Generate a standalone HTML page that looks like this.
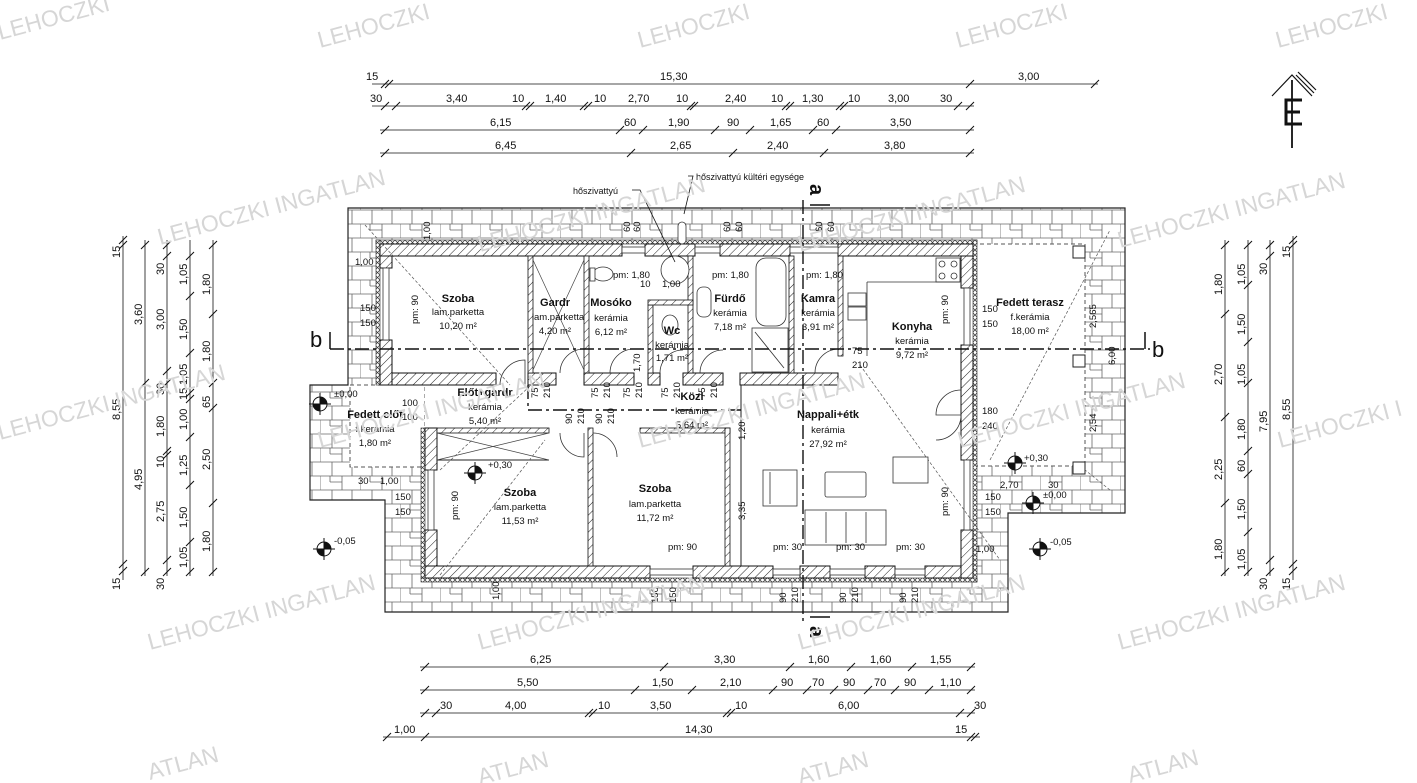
<!DOCTYPE html>
<html><head><meta charset="utf-8"><style>
html,body{margin:0;padding:0;background:#fff}
svg{display:block}
text{font-family:"Liberation Sans",sans-serif;fill:#111}
.d{font-size:11px}
.r{font-size:11px;font-weight:bold}
.s{font-size:9.5px}
.wm text{font-size:23px;fill:#d6d6d6;font-family:"Liberation Sans",sans-serif}
</style></head><body>
<svg width="1417" height="783" viewBox="0 0 1417 783" xmlns="http://www.w3.org/2000/svg">
<defs>
<pattern id="pav" width="40" height="28" patternUnits="userSpaceOnUse">
<rect width="40" height="28" fill="#fff"/>
<path d="M0 0H40M0 14H40M0 28H40M0 0V14M22 0V14M12 14V28M32 14V28M10 0V6M10 6H22" stroke="#666" stroke-width="0.8" fill="none"/>
</pattern>
<pattern id="hat" width="6" height="6" patternUnits="userSpaceOnUse" patternTransform="rotate(45)">
<rect width="6" height="6" fill="#fff"/><line x1="0" y1="0" x2="0" y2="6" stroke="#222" stroke-width="1"/>
</pattern>
<pattern id="ins" width="5" height="5" patternUnits="userSpaceOnUse">
<rect width="5" height="5" fill="#fff"/><path d="M0 0L5 5M5 0L0 5" stroke="#333" stroke-width="0.7"/>
</pattern>
</defs>

<polygon points="348,208 1125,208 1125,513 1008,513 1008,612 385,612 385,500 310,500 310,385 348,385" fill="url(#pav)" stroke="#222" stroke-width="1.2"/>
<rect x="973" y="244" width="112" height="222" fill="#fff" stroke="#555" stroke-dasharray="4,3"/>
<rect x="1073" y="246" width="12" height="12" fill="#fff" stroke="#222"/>
<rect x="1073" y="355" width="12" height="12" fill="#fff" stroke="#222"/>
<rect x="1073" y="462" width="12" height="12" fill="#fff" stroke="#222"/>
<rect x="350" y="385" width="75" height="82" fill="#fff" stroke="#555" stroke-dasharray="4,3"/>
<polygon points="380,244 973,244 973,578 425,578 425,385 380,385" fill="#fff"/>
<rect x="376" y="240" width="601" height="4" fill="url(#ins)" stroke="#222" stroke-width="0.6"/>
<rect x="376" y="240" width="4" height="145" fill="url(#ins)" stroke="#222" stroke-width="0.6"/>
<rect x="973" y="240" width="4" height="342" fill="url(#ins)" stroke="#222" stroke-width="0.6"/>
<rect x="421" y="578" width="556" height="4" fill="url(#ins)" stroke="#222" stroke-width="0.6"/>
<rect x="421" y="428" width="4" height="150" fill="url(#ins)" stroke="#222" stroke-width="0.6"/>
<g fill="url(#hat)" stroke="#111" stroke-width="1">
<rect x="380" y="244" width="242" height="12"/>
<rect x="645" y="244" width="50" height="12"/>
<rect x="720" y="244" width="70" height="12"/>
<rect x="838" y="244" width="135" height="12"/>
<rect x="380" y="256" width="12" height="12"/>
<rect x="380" y="340" width="12" height="45"/>
<rect x="392" y="373" width="104" height="12"/>
<rect x="961" y="256" width="12" height="32"/>
<rect x="961" y="345" width="12" height="115"/>
<rect x="961" y="530" width="12" height="48"/>
<rect x="425" y="566" width="225" height="12"/>
<rect x="693" y="566" width="80" height="12"/>
<rect x="800" y="566" width="30" height="12"/>
<rect x="865" y="566" width="30" height="12"/>
<rect x="925" y="566" width="36" height="12"/>
<rect x="425" y="428" width="12" height="42"/>
<rect x="425" y="530" width="12" height="36"/>
<rect x="528" y="373" width="28" height="12"/>
<rect x="584" y="373" width="50" height="12"/>
<rect x="648" y="373" width="12" height="12"/>
<rect x="683" y="373" width="40" height="12"/>
<rect x="740" y="373" width="98" height="12"/>
</g>
<g stroke="#333" stroke-width="0.8" fill="#fff">
<rect x="622" y="247" width="23" height="6"/><rect x="695" y="247" width="25" height="6"/><rect x="790" y="247" width="48" height="6"/>
<rect x="383" y="268" width="6" height="72"/><rect x="964" y="288" width="6" height="57"/><rect x="964" y="460" width="6" height="70"/>
<rect x="428" y="470" width="6" height="60"/>
<rect x="650" y="569" width="43" height="6"/><rect x="773" y="569" width="27" height="6"/><rect x="830" y="569" width="35" height="6"/><rect x="895" y="569" width="30" height="6"/>
</g>
<g fill="url(#hat)" stroke="#111" stroke-width="0.8">
<rect x="528" y="256" width="5" height="117"/>
<rect x="584" y="256" width="5" height="117"/>
<rect x="648" y="305" width="5" height="68"/>
<rect x="688" y="256" width="5" height="117"/>
<rect x="648" y="300" width="45" height="5"/>
<rect x="789" y="256" width="5" height="117"/>
<rect x="838" y="256" width="5" height="100"/>
<rect x="437" y="428" width="112" height="5"/>
<rect x="588" y="428" width="5" height="138"/>
<rect x="640" y="428" width="90" height="5"/>
<rect x="725" y="428" width="5" height="138"/>
</g>
<line x1="741" y1="385" x2="741" y2="566" stroke="#222"/>
<line x1="437" y1="460" x2="549" y2="460" stroke="#222"/>
<path d="M437 433L549 460M549 433L437 460" stroke="#444" stroke-width="0.7"/>
<path d="M533 260L584 370M584 260L533 370" stroke="#444" stroke-width="0.7"/>
<g stroke="#555" stroke-width="0.7" stroke-dasharray="3,2" fill="none">
<line x1="365" y1="225" x2="510" y2="385"/><line x1="440" y1="470" x2="545" y2="372"/>
<line x1="440" y1="575" x2="545" y2="440"/><line x1="860" y1="365" x2="1000" y2="560"/>
<line x1="990" y1="460" x2="1110" y2="230"/><line x1="1110" y1="490" x2="1085" y2="470"/>
</g>
<g stroke="#333" stroke-width="0.8" fill="none">
<path d="M500 385A25 25 0 0 1 525 360V385"/><path d="M560 373A24 24 0 0 1 584 349V373"/>
<path d="M610 373A24 24 0 0 1 634 349"/><path d="M660 373A23 23 0 0 1 683 350"/>
<path d="M700 373A23 23 0 0 1 723 350"/><path d="M815 373A24 24 0 0 1 838 349"/>
<path d="M560 433A24 24 0 0 0 584 457V433"/><path d="M593 433A24 24 0 0 1 617 457"/>
<path d="M961 390A25 25 0 0 0 936 415H961"/><path d="M961 415A25 25 0 0 1 936 440"/>
</g>
<g stroke="#333" stroke-width="0.8" fill="#fff">
<rect x="756" y="258" width="30" height="68" rx="10"/><rect x="752" y="328" width="36" height="44"/>
<path d="M755 332L784 368"/>
<rect x="697" y="287" width="14" height="30" rx="6"/>
<ellipse cx="603" cy="274" rx="10" ry="7"/><rect x="590" y="268" width="5" height="13"/>
<ellipse cx="670" cy="325" rx="8" ry="10"/><circle cx="675" cy="270" r="14"/>
<rect x="936" y="258" width="24" height="24"/>
<circle cx="942" cy="264" r="3"/><circle cx="954" cy="264" r="3"/><circle cx="942" cy="276" r="3"/><circle cx="954" cy="276" r="3"/>
<path d="M867 282H936V282H960M867 282V356" fill="none"/>
<rect x="848" y="293" width="18" height="13"/><rect x="848" y="307" width="18" height="13"/>
<rect x="763" y="470" width="34" height="36"/><rect x="825" y="472" width="41" height="25" rx="2"/>
<rect x="893" y="457" width="35" height="26"/><rect x="805" y="510" width="81" height="35"/>
<path d="M826 512V543M846 512V543M866 512V543M770 472V504"/>
<rect x="678" y="222" width="8" height="22" rx="4"/>
</g>
<g stroke="#111" stroke-width="1.4" stroke-dasharray="14,4,3,4" fill="none">
<line x1="330" y1="349" x2="1150" y2="349"/><line x1="803" y1="200" x2="803" y2="625"/>
<line x1="528" y1="410" x2="741" y2="410"/><line x1="528" y1="385" x2="528" y2="410"/>
</g>
<path d="M330 332V349M1145 332V349M810 205H830M810 617H830" stroke="#111" stroke-width="1.5"/>
<text x="310" y="347" style="font-size:22px">b</text><text x="1152" y="357" style="font-size:22px">b</text>
<text x="812" y="198" style="font-size:20px;font-weight:bold" transform="rotate(90 818 190)">a</text>
<text x="812" y="640" style="font-size:20px;font-weight:bold" transform="rotate(90 818 632)">a</text>

<g text-anchor="middle">
<text class="r" x="458" y="302">Szoba</text><text class="s" x="458" y="315">lam.parketta</text><text class="s" x="458" y="329">10,20 m²</text>
<text class="r" x="555" y="306">Gardr</text><text class="s" x="558" y="320">lam.parketta</text><text class="s" x="555" y="334">4,20 m²</text>
<text class="r" x="611" y="306">Mosóko</text><text class="s" x="611" y="321">kerámia</text><text class="s" x="611" y="335">6,12 m²</text>
<text class="r" x="672" y="334">Wc</text><text class="s" x="672" y="348">kerámia</text><text class="s" x="672" y="361">1,71 m²</text>
<text class="r" x="730" y="302">Fürdő</text><text class="s" x="730" y="316">kerámia</text><text class="s" x="730" y="330">7,18 m²</text>
<text class="r" x="818" y="302">Kamra</text><text class="s" x="818" y="316">kerámia</text><text class="s" x="818" y="330">3,91 m²</text>
<text class="r" x="912" y="330">Konyha</text><text class="s" x="912" y="344">kerámia</text><text class="s" x="912" y="358">9,72 m²</text>
<text class="r" x="1030" y="306">Fedett terasz</text><text class="s" x="1030" y="320">f.kerámia</text><text class="s" x="1030" y="334">18,00 m²</text>
<text class="r" x="485" y="396">Előt+gardr</text><text class="s" x="485" y="410">kerámia</text><text class="s" x="485" y="424">5,40 m²</text>
<text class="r" x="692" y="400">Közl</text><text class="s" x="692" y="414">kerámia</text><text class="s" x="692" y="428">5,64 m²</text>
<text class="r" x="828" y="418">Nappali+étk</text><text class="s" x="828" y="433">kerámia</text><text class="s" x="828" y="447">27,92 m²</text>
<text class="r" x="520" y="496">Szoba</text><text class="s" x="520" y="510">lam.parketta</text><text class="s" x="520" y="524">11,53 m²</text>
<text class="r" x="655" y="492">Szoba</text><text class="s" x="655" y="507">lam.parketta</text><text class="s" x="655" y="521">11,72 m²</text>
<text class="r" x="375" y="418">Fedett előt</text><text class="s" x="375" y="432">f.kerámia</text><text class="s" x="375" y="446">1,80 m²</text>
</g>
<g class="s">
<text x="613" y="278">pm: 1,80</text><text x="712" y="278">pm: 1,80</text><text x="806" y="278">pm: 1,80</text>
<text x="640" y="287">10</text><text x="662" y="287">1,00</text>
<text x="852" y="354">75</text><text x="852" y="368">210</text>
<text x="360" y="311">150</text><text x="360" y="326">150</text>
<text x="982" y="312">150</text><text x="982" y="327">150</text>
<text x="982" y="414">180</text><text x="982" y="429">240</text>
<text x="402" y="406">100</text><text x="402" y="420">100</text>
<text x="985" y="500">150</text><text x="985" y="515">150</text>
<text x="395" y="500">150</text><text x="395" y="515">150</text>
<text x="668" y="550">pm: 90</text>
<text x="773" y="550">pm: 30</text><text x="836" y="550">pm: 30</text><text x="896" y="550">pm: 30</text>
<text x="1000" y="488">2,70</text><text x="1048" y="488">30</text><text x="1043" y="498">±0,00</text>
<text x="976" y="552">1,00</text><text x="358" y="484">30</text><text x="380" y="484">1,00</text><text x="355" y="265">1,00</text>
<text x="488" y="468">+0,30</text><text x="1024" y="461">+0,30</text><text x="334" y="397">±0,00</text>
<text x="334" y="544">-0,05</text><text x="1050" y="545">-0,05</text>
</g>
<g class="s">
<text transform="translate(418,324) rotate(-90)">pm: 90</text>
<text transform="translate(948,324) rotate(-90)">pm: 90</text>
<text transform="translate(458,520) rotate(-90)">pm: 90</text>
<text transform="translate(948,516) rotate(-90)">pm: 90</text>
<text transform="translate(430,240) rotate(-90)">1,00</text>
<text transform="translate(499,600) rotate(-90)">1,00</text>
<text transform="translate(640,372) rotate(-90)">1,70</text>
<text transform="translate(745,520) rotate(-90)">3,35</text>
<text transform="translate(745,440) rotate(-90)">1,20</text>
<text transform="translate(1096,328) rotate(-90)">2,565</text>
<text transform="translate(1096,432) rotate(-90)">2,54</text>
<text transform="translate(1115,365) rotate(-90)">6,00</text>
<text transform="translate(630,232) rotate(-90)">60</text><text transform="translate(640,232) rotate(-90)">60</text>
<text transform="translate(730,232) rotate(-90)">60</text><text transform="translate(742,232) rotate(-90)">60</text>
<text transform="translate(822,232) rotate(-90)">60</text><text transform="translate(834,232) rotate(-90)">60</text>
<text transform="translate(658,603) rotate(-90)">150</text><text transform="translate(676,603) rotate(-90)">150</text>
<text transform="translate(786,603) rotate(-90)">90</text><text transform="translate(798,603) rotate(-90)">210</text>
<text transform="translate(846,603) rotate(-90)">90</text><text transform="translate(858,603) rotate(-90)">210</text>
<text transform="translate(906,603) rotate(-90)">90</text><text transform="translate(918,603) rotate(-90)">210</text>
<text transform="translate(538,398) rotate(-90)">75</text><text transform="translate(550,398) rotate(-90)">210</text>
<text transform="translate(598,398) rotate(-90)">75</text><text transform="translate(610,398) rotate(-90)">210</text>
<text transform="translate(630,398) rotate(-90)">75</text><text transform="translate(642,398) rotate(-90)">210</text>
<text transform="translate(668,398) rotate(-90)">75</text><text transform="translate(680,398) rotate(-90)">210</text>
<text transform="translate(705,398) rotate(-90)">75</text><text transform="translate(717,398) rotate(-90)">210</text>
<text transform="translate(572,424) rotate(-90)">90</text><text transform="translate(584,424) rotate(-90)">210</text>
<text transform="translate(602,424) rotate(-90)">90</text><text transform="translate(614,424) rotate(-90)">210</text>
</g>
<g>
<g transform="translate(320,404)"><circle r="7" fill="#fff" stroke="#111"/><path d="M0 0H7A7 7 0 0 0 0 -7ZM0 0H-7A7 7 0 0 0 0 7Z" fill="#111"/><path d="M-11 0H11M0 -11V11" stroke="#111"/></g>
<g transform="translate(475,473)"><circle r="7" fill="#fff" stroke="#111"/><path d="M0 0H7A7 7 0 0 0 0 -7ZM0 0H-7A7 7 0 0 0 0 7Z" fill="#111"/><path d="M-11 0H11M0 -11V11" stroke="#111"/></g>
<g transform="translate(1015,463)"><circle r="7" fill="#fff" stroke="#111"/><path d="M0 0H7A7 7 0 0 0 0 -7ZM0 0H-7A7 7 0 0 0 0 7Z" fill="#111"/><path d="M-11 0H11M0 -11V11" stroke="#111"/></g>
<g transform="translate(1033,503)"><circle r="7" fill="#fff" stroke="#111"/><path d="M0 0H7A7 7 0 0 0 0 -7ZM0 0H-7A7 7 0 0 0 0 7Z" fill="#111"/><path d="M-11 0H11M0 -11V11" stroke="#111"/></g>
<g transform="translate(324,549)"><circle r="7" fill="#fff" stroke="#111"/><path d="M0 0H7A7 7 0 0 0 0 -7ZM0 0H-7A7 7 0 0 0 0 7Z" fill="#111"/><path d="M-11 0H11M0 -11V11" stroke="#111"/></g>
<g transform="translate(1040,549)"><circle r="7" fill="#fff" stroke="#111"/><path d="M0 0H7A7 7 0 0 0 0 -7ZM0 0H-7A7 7 0 0 0 0 7Z" fill="#111"/><path d="M-11 0H11M0 -11V11" stroke="#111"/></g>
</g>
<path d="M632 190H640L675 262M688 176H693L684 214" stroke="#111" fill="none" stroke-width="0.8"/>
<text class="s" x="573" y="194" style="font-size:9px">hőszivattyú</text>
<text class="s" x="696" y="180" style="font-size:9px">hőszivattyú kültéri egysége</text>

<g stroke="#111" stroke-width="0.8" fill="none">
<line x1="372" y1="84" x2="1098" y2="84"/><line x1="372" y1="106" x2="974" y2="106"/>
<line x1="380" y1="130" x2="974" y2="130"/><line x1="380" y1="153" x2="974" y2="153"/>
<line x1="420" y1="667" x2="975" y2="667"/><line x1="420" y1="690" x2="975" y2="690"/>
<line x1="420" y1="713" x2="975" y2="713"/><line x1="383" y1="737" x2="980" y2="737"/>
<line x1="123" y1="236" x2="123" y2="580"/><line x1="145" y1="240" x2="145" y2="576"/>
<line x1="167" y1="240" x2="167" y2="576"/><line x1="190" y1="240" x2="190" y2="576"/><line x1="213" y1="240" x2="213" y2="576"/>
<line x1="1225" y1="240" x2="1225" y2="576"/><line x1="1248" y1="240" x2="1248" y2="576"/>
<line x1="1270" y1="240" x2="1270" y2="576"/><line x1="1293" y1="236" x2="1293" y2="580"/>
</g>
<g stroke="#111" stroke-width="1">
<path d="M381 88L389 80M385 88L393 80M966 88L974 80M1091 88L1099 80"/>
<path d="M381 110L389 102M392 110L400 102M522 110L530 102M526 110L534 102M580 110L588 102M584 110L592 102M687 110L695 102M690 110L698 102M782 110L790 102M786 110L794 102M836 110L844 102M840 110L848 102M954 110L962 102M966 110L974 102"/>
<path d="M381 134L389 126M616 134L624 126M639 134L647 126M711 134L719 126M746 134L754 126M809 134L817 126M832 134L840 126M966 134L974 126"/>
<path d="M381 157L389 149M627 157L635 149M729 157L737 149M820 157L828 149M966 157L974 149"/>
<path d="M421 671L429 663M660 671L668 663M786 671L794 663M847 671L855 663M908 671L916 663M967 671L975 663"/>
<path d="M421 694L429 686M631 694L639 686M688 694L696 686M769 694L777 686M803 694L811 686M830 694L838 686M864 694L872 686M891 694L899 686M925 694L933 686M967 694L975 686"/>
<path d="M421 717L429 709M432 717L440 709M585 717L593 709M589 717L597 709M723 717L731 709M727 717L735 709M956 717L964 709M967 717L975 709"/>
<path d="M383 741L391 733M421 741L429 733M967 741L975 733M971 741L979 733"/>
<path d="M119 244L127 236M119 249L127 241M119 568L127 560M119 575L127 567"/>
<path d="M141 249L149 241M141 387L149 379M141 576L149 568"/>
<path d="M163 249L171 241M163 260L171 252M163 375L171 367M163 387L171 379M163 455L171 447M163 459L171 451M163 564L171 556M163 576L171 568"/>
<path d="M186 260L194 252M186 300L194 292M186 357L194 349M186 397L194 389M186 403L194 395M186 441L194 433M186 489L194 481M186 546L194 538M186 576L194 568"/>
<path d="M209 249L217 241M209 318L217 310M209 387L217 379M209 412L217 404M209 507L217 499M209 576L217 568"/>
<path d="M1221 249L1229 241M1221 318L1229 310M1221 421L1229 413M1221 507L1229 499M1221 576L1229 568"/>
<path d="M1244 249L1252 241M1244 289L1252 281M1244 346L1252 338M1244 387L1252 379M1244 455L1252 447M1244 478L1252 470M1244 536L1252 528M1244 576L1252 568"/>
<path d="M1266 249L1274 241M1266 260L1274 252M1266 564L1274 556M1266 576L1274 568"/>
<path d="M1289 244L1297 236M1289 249L1297 241M1289 568L1297 560M1289 575L1297 567"/>
</g>
<g class="d">
<text x="366" y="80">15</text><text x="660" y="80">15,30</text><text x="1018" y="80">3,00</text>
<text x="370" y="102">30</text><text x="446" y="102">3,40</text><text x="512" y="102">10</text><text x="545" y="102">1,40</text><text x="594" y="102">10</text><text x="628" y="102">2,70</text><text x="676" y="102">10</text><text x="725" y="102">2,40</text><text x="771" y="102">10</text><text x="802" y="102">1,30</text><text x="848" y="102">10</text><text x="888" y="102">3,00</text><text x="940" y="102">30</text>
<text x="490" y="126">6,15</text><text x="624" y="126">60</text><text x="668" y="126">1,90</text><text x="727" y="126">90</text><text x="770" y="126">1,65</text><text x="817" y="126">60</text><text x="890" y="126">3,50</text>
<text x="495" y="149">6,45</text><text x="670" y="149">2,65</text><text x="767" y="149">2,40</text><text x="884" y="149">3,80</text>
<text x="530" y="663">6,25</text><text x="714" y="663">3,30</text><text x="808" y="663">1,60</text><text x="870" y="663">1,60</text><text x="930" y="663">1,55</text>
<text x="517" y="686">5,50</text><text x="652" y="686">1,50</text><text x="720" y="686">2,10</text><text x="781" y="686">90</text><text x="812" y="686">70</text><text x="843" y="686">90</text><text x="874" y="686">70</text><text x="904" y="686">90</text><text x="940" y="686">1,10</text>
<text x="440" y="709">30</text><text x="505" y="709">4,00</text><text x="598" y="709">10</text><text x="650" y="709">3,50</text><text x="735" y="709">10</text><text x="838" y="709">6,00</text><text x="974" y="709">30</text>
<text x="394" y="733">1,00</text><text x="685" y="733">14,30</text><text x="955" y="733">15</text>
</g>
<g class="d">
<text transform="translate(120,258) rotate(-90)">15</text><text transform="translate(120,420) rotate(-90)">8,55</text><text transform="translate(120,590) rotate(-90)">15</text>
<text transform="translate(142,325) rotate(-90)">3,60</text><text transform="translate(142,490) rotate(-90)">4,95</text>
<text transform="translate(164,275) rotate(-90)">30</text><text transform="translate(164,330) rotate(-90)">3,00</text><text transform="translate(164,395) rotate(-90)">30</text><text transform="translate(164,437) rotate(-90)">1,80</text><text transform="translate(164,468) rotate(-90)">10</text><text transform="translate(164,522) rotate(-90)">2,75</text><text transform="translate(164,590) rotate(-90)">30</text>
<text transform="translate(187,285) rotate(-90)">1,05</text><text transform="translate(187,340) rotate(-90)">1,50</text><text transform="translate(187,385) rotate(-90)">1,05</text><text transform="translate(187,400) rotate(-90)">15</text><text transform="translate(187,430) rotate(-90)">1,00</text><text transform="translate(187,476) rotate(-90)">1,25</text><text transform="translate(187,528) rotate(-90)">1,50</text><text transform="translate(187,568) rotate(-90)">1,05</text>
<text transform="translate(210,295) rotate(-90)">1,80</text><text transform="translate(210,362) rotate(-90)">1,80</text><text transform="translate(210,408) rotate(-90)">65</text><text transform="translate(210,470) rotate(-90)">2,50</text><text transform="translate(210,552) rotate(-90)">1,80</text>
<text transform="translate(1222,295) rotate(-90)">1,80</text><text transform="translate(1222,385) rotate(-90)">2,70</text><text transform="translate(1222,480) rotate(-90)">2,25</text><text transform="translate(1222,560) rotate(-90)">1,80</text>
<text transform="translate(1245,285) rotate(-90)">1,05</text><text transform="translate(1245,335) rotate(-90)">1,50</text><text transform="translate(1245,385) rotate(-90)">1,05</text><text transform="translate(1245,440) rotate(-90)">1,80</text><text transform="translate(1245,472) rotate(-90)">60</text><text transform="translate(1245,520) rotate(-90)">1,50</text><text transform="translate(1245,570) rotate(-90)">1,05</text>
<text transform="translate(1267,275) rotate(-90)">30</text><text transform="translate(1267,432) rotate(-90)">7,95</text><text transform="translate(1267,590) rotate(-90)">30</text>
<text transform="translate(1290,258) rotate(-90)">15</text><text transform="translate(1290,420) rotate(-90)">8,55</text><text transform="translate(1290,590) rotate(-90)">15</text>
</g>
<g stroke="#111" fill="none">
<path d="M1272 96L1292 75L1312 96M1296 75L1314 93M1298 72L1316 90" stroke-width="1.2"/>
<path d="M1292 80V148" stroke-width="1.8"/>
<path d="M1302 100H1286V124H1302M1286 112H1300" stroke-width="3"/>
</g>
<g class="wm">
<text transform="translate(0,40) rotate(-15)">LEHOCZKI</text>
<text transform="translate(320,48) rotate(-15)">LEHOCZKI</text>
<text transform="translate(640,48) rotate(-15)">LEHOCZKI</text>
<text transform="translate(958,48) rotate(-15)">LEHOCZKI</text>
<text transform="translate(1278,48) rotate(-15)">LEHOCZKI</text>
<text transform="translate(160,245) rotate(-15)">LEHOCZKI INGATLAN</text>
<text transform="translate(480,252) rotate(-15)">LEHOCZKI INGATLAN</text>
<text transform="translate(800,252) rotate(-15)">LEHOCZKI INGATLAN</text>
<text transform="translate(1120,248) rotate(-15)">LEHOCZKI INGATLAN</text>
<text transform="translate(0,440) rotate(-15)">LEHOCZKI INGATLAN</text>
<text transform="translate(320,448) rotate(-15)">LEHOCZKI INGATLAN</text>
<text transform="translate(640,448) rotate(-15)">LEHOCZKI INGATLAN</text>
<text transform="translate(960,448) rotate(-15)">LEHOCZKI INGATLAN</text>
<text transform="translate(1280,448) rotate(-15)">LEHOCZKI I</text>
<text transform="translate(150,650) rotate(-15)">LEHOCZKI INGATLAN</text>
<text transform="translate(480,650) rotate(-15)">LEHOCZKI INGATLAN</text>
<text transform="translate(800,650) rotate(-15)">LEHOCZKI INGATLAN</text>
<text transform="translate(1120,650) rotate(-15)">LEHOCZKI INGATLAN</text>
<text transform="translate(150,780) rotate(-15)">ATLAN</text>
<text transform="translate(480,785) rotate(-15)">ATLAN</text>
<text transform="translate(800,785) rotate(-15)">ATLAN</text>
<text transform="translate(1130,783) rotate(-15)">ATLAN</text>
</g>
</svg>
</body></html>
